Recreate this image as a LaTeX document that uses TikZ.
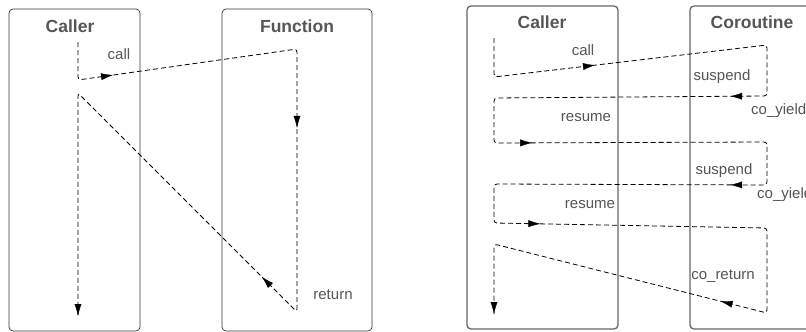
\documentclass[tikz,border=0pt]{standalone}
\usepackage{fontspec}
\setmainfont{Liberation Sans}
\usetikzlibrary{arrows.meta,decorations.markings,positioning}

\definecolor{txtgray}{HTML}{555555}
\definecolor{boxgray}{HTML}{666666}

\begin{document}
\begin{tikzpicture}[x=1pt,y=-1pt,
    lanethin/.style={draw=black!80, line width=0.7pt, rounded corners=4pt, inner sep=0pt},
    lanethick/.style={draw=boxgray, line width=1.3pt, rounded corners=4pt, inner sep=0pt},
    title/.style={text=txtgray, inner sep=0pt, font=\fontsize{17.5}{20}\selectfont\bfseries},
    lbl/.style={text=txtgray, inner sep=0pt, font=\fontsize{15}{18}\selectfont},
    flow/.style={draw=black, line width=0.8pt, dash pattern=on 5pt off 3pt, rounded corners=3pt},
    arrowat/.style={postaction=decorate, decoration={markings,
        mark=at position #1 with {\arrow{Latex[length=12pt,width=7pt]}}}}]
    \useasboundingbox (0,0) rectangle (806,332);
    \clip (0,0) rectangle (806,332);

    % function call
    \node[lanethin, minimum width=131pt, minimum height=322pt] (callerA) at (74.5,170) {};
    \node[lanethin, minimum width=150pt, minimum height=322pt] (function) at (297,170) {};
    \node[title] (callerAt) at (70,26) {Caller};
    \node[title] (functiont) at (297,26) {Function};
    \coordinate (a1) at (78,42);
    \coordinate (a2) at (78,80);
    \coordinate (f1) at (297,49);
    \coordinate (f2) at (297,312);
    \coordinate (a3) at (78,93);
    \coordinate (a4) at (78,316);
    \draw[flow] (a1) -- (a2) -- (f1) -- (f2) -- (a3) -- (a4);
    \path[arrowat=0.16] (a2) -- (f1);
    \path[arrowat=0.30] (f1) -- (f2);
    \path[arrowat=0.16] (f2) -- (a3);
    \path[arrowat=1] (a3) -- (a4);
    \node[lbl] (callA) at (119,54) {call};
    \node[lbl] (return) at (333,295) {return};

    % coroutine
    \node[lanethick, minimum width=151pt, minimum height=323pt] (callerB) at (542.5,167.5) {};
    \node[lanethick, minimum width=150pt, minimum height=323pt] (coroutine) at (765,167.5) {};
    \node[title] (callerBt) at (542,22) {Caller};
    \node[title] (coroutinet) at (752,22) {Coroutine};
    \coordinate (b1) at (494,38);
    \coordinate (b2) at (494,77);
    \coordinate (q1) at (767,45);
    \coordinate (q2) at (767,96);
    \coordinate (b3) at (494,98);
    \coordinate (b4) at (494,143);
    \coordinate (q3) at (767,142);
    \coordinate (q4) at (767,185);
    \coordinate (b5) at (494,184);
    \coordinate (b6) at (494,223);
    \coordinate (q5) at (767,228);
    \coordinate (q6) at (767,313);
    \coordinate (b7) at (494,244);
    \coordinate (b8) at (494,314);
    \draw[flow] (b1) -- (b2) -- (q1) -- (q2) -- (b3) -- (b4) -- (q3) -- (q4)
        -- (b5) -- (b6) -- (q5) -- (q6) -- (b7) -- (b8);
    \path[arrowat=0.37] (b2) -- (q1);
    \path[arrowat=0.135] (q2) -- (b3);
    \path[arrowat=0.14] (b4) -- (q3);
    \path[arrowat=0.135] (q4) -- (b5);
    \path[arrowat=0.17] (b6) -- (q5);
    \path[arrowat=0.17] (q6) -- (b7);
    \path[arrowat=1] (b7) -- (b8);
    \node[lbl] (callB) at (583,50) {call};
    \node[lbl] (suspend1) at (722,77) {suspend};
    \node[lbl, anchor=west] (yield1) at (751,111) {co\_yield};
    \node[lbl] (resume1) at (586,118) {resume};
    \node[lbl] (suspend2) at (724,171) {suspend};
    \node[lbl, anchor=west] (yield2) at (757,195) {co\_yield};
    \node[lbl] (resume2) at (590,205) {resume};
    \node[lbl] (coreturn) at (723,276) {co\_return};
\end{tikzpicture}
\end{document}
